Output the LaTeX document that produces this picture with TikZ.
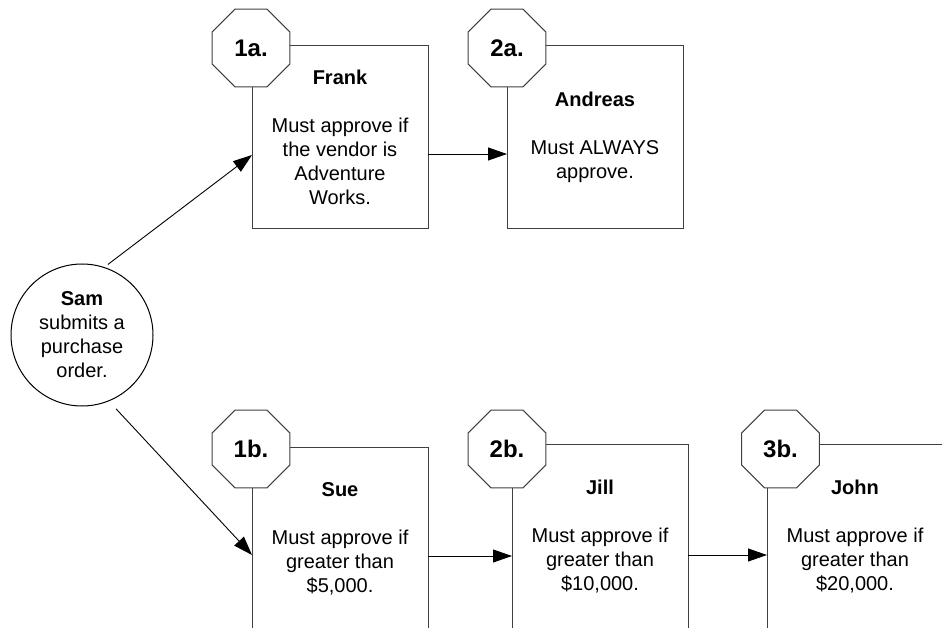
\documentclass[tikz,border=0pt]{standalone}
\usepackage{fontspec}
\setmainfont{Liberation Sans}
\usetikzlibrary{shapes.geometric,arrows.meta}
\begin{document}
\begin{tikzpicture}[x=1pt,y=-1pt,
  body/.style={font=\fontsize{20}{24}\selectfont, align=center, inner sep=0pt},
  stepbox/.style={draw=black!75, line width=1pt, fill=white, rectangle,
    minimum width=176pt, inner sep=0pt, outer sep=0pt, body},
  badge/.style={draw=black!75, line width=1pt, fill=white, regular polygon,
    regular polygon sides=8, minimum size=84pt, inner sep=0pt, outer sep=0pt,
    font=\bfseries\fontsize{24}{28}\selectfont},
  actor/.style={draw=black, line width=1pt, fill=white, circle,
    minimum size=142pt, inner sep=0pt, outer sep=0pt, body},
  flow/.style={draw=black, line width=0.9pt, -{Triangle[length=19pt,width=13pt]}}
]
\useasboundingbox (0,0) rectangle (942,628);
\clip (0,0) rectangle (942,628);

% submitter
\node[actor] (sam) at (82,335) {\textbf{Sam}\\submits a\\purchase\\order.};

% branch a: vendor approval
\node[stepbox, minimum height=183pt] (frank) at (340,137.5)
  {\textbf{Frank}\\[24pt]Must approve if\\the vendor is\\Adventure\\Works.};
\node[stepbox, minimum height=183pt] (andreas) at (595,137.5)
  {\textbf{Andreas}\\[24pt]Must ALWAYS\\approve.};

% branch b: amount thresholds (boxes run past the lower edge)
\node[stepbox, minimum height=213pt] (sue) at (340,553.5) {};
\node[stepbox, minimum height=216pt] (jill) at (600,552) {};
\node[stepbox, minimum height=216pt] (john) at (855,552) {};
\node[body] (sueText) at (340,539) {\textbf{Sue}\\[24pt]Must approve if\\greater than\\\$5,000.};
\node[body] (jillText) at (600,537) {\textbf{Jill}\\[24pt]Must approve if\\greater than\\\$10,000.};
\node[body] (johnText) at (855,537) {\textbf{John}\\[24pt]Must approve if\\greater than\\\$20,000.};

% step badges
\node[badge] (b1a) at (251,48) {1a.};
\node[badge] (b2a) at (507,48) {2a.};
\node[badge] (b1b) at (251,449) {1b.};
\node[badge] (b2b) at (507,449) {2b.};
\node[badge] (b3b) at (780.5,449) {3b.};

% connectors
\draw[flow, shorten <=5pt] (sam.72) -- ([yshift=-17.5pt]frank.west);
\draw[flow, shorten <=11pt] (sam.-68) -- ([yshift=-1.5pt]sue.west);
\draw[flow] ([yshift=-16.5pt]frank.east) coordinate (fa) -- (fa -| andreas.west);
\draw[flow] ([yshift=-2.5pt]sue.east) coordinate (sj) -- (sj -| jill.west);
\draw[flow] ([yshift=-3pt]jill.east) coordinate (jj) -- (jj -| john.west);
\end{tikzpicture}
\end{document}
